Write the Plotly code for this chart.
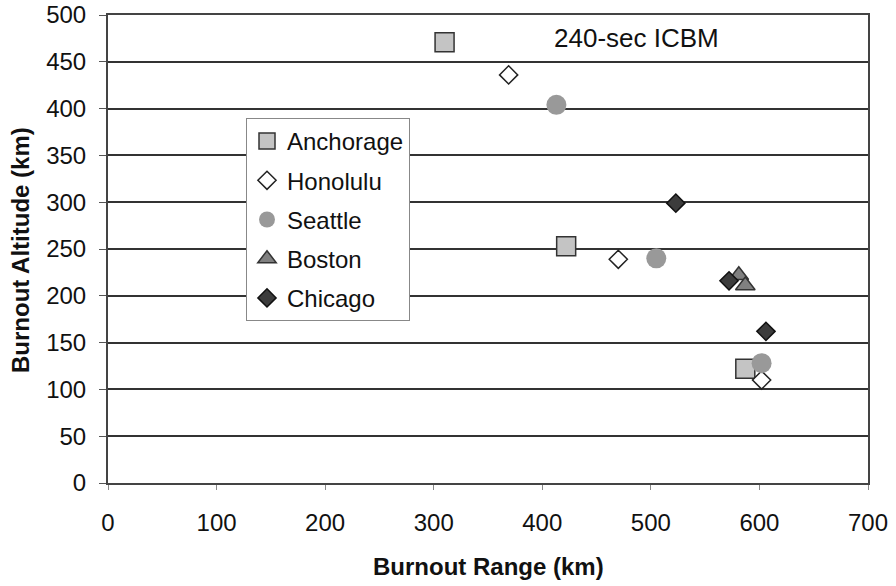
import plotly.graph_objects as go

cities = ["Anchorage", "Honolulu", "Seattle", "Boston", "Chicago"]
range_km = {
    "Anchorage": [310, 422, 587],
    "Honolulu": [369, 470, 602],
    "Seattle": [413, 505, 602],
    "Boston": [581, 587],
    "Chicago": [523, 572, 606],
}
alt_km = {
    "Anchorage": [471, 253, 122],
    "Honolulu": [436, 239, 110],
    "Seattle": [404, 240, 128],
    "Boston": [222, 211],
    "Chicago": [299, 216, 162],
}
x_ticks = [0, 100, 200, 300, 400, 500, 600, 700]
y_ticks = [0, 50, 100, 150, 200, 250, 300, 350, 400, 450, 500]

styles = {
    "Anchorage": dict(symbol="square", size=19, color="#c4c4c4", line=dict(color="#333333", width=1.5)),
    "Honolulu": dict(symbol="diamond", size=14, color="#ffffff", line=dict(color="#222222", width=1.5)),
    "Seattle": dict(symbol="circle", size=20, color="#999999", line=dict(color="#999999", width=0)),
    "Boston": dict(symbol="triangle-up", size=17, color="#808080", line=dict(color="#333333", width=1.5)),
    "Chicago": dict(symbol="diamond", size=14, color="#3c3c3c", line=dict(color="#111111", width=1.5)),
}

fig = go.Figure()
for c in cities:
    fig.add_trace(go.Scatter(
        x=range_km[c], y=alt_km[c], mode="markers", name=c,
        marker=styles[c], legendgroup=c,
    ))

font = "Liberation Sans, Arial, sans-serif"
fig.update_layout(
    width=896, height=586,
    margin=dict(l=108, r=28, t=15, b=103),
    paper_bgcolor="white", plot_bgcolor="white",
    font=dict(family=font, size=24, color="#111111"),
    showlegend=True,
    legend=dict(
        x=(246 - 108) / 760, y=(483 - 118) / 468, xanchor="left", yanchor="top",
        bgcolor="white", bordercolor="#888888", borderwidth=1,
        font=dict(size=24, color="#111111"),
        tracegroupgap=5, itemsizing="trace", itemwidth=30,
    ),
    xaxis=dict(
        range=[0, 700], tickvals=x_ticks, ticks="outside", ticklen=5,
        tickcolor="#888888", showgrid=False, zeroline=False, automargin=False,
        showline=True, linecolor="#444444", linewidth=2, mirror=True,
        tickfont=dict(size=24), ticklabelstandoff=12, ticklabeloverflow="allow",
    ),
    yaxis=dict(
        range=[0, 500], tickvals=y_ticks, ticks="outside", ticklen=7,
        tickcolor="#555555", showgrid=True, gridcolor="#333333", gridwidth=2,
        zeroline=False, showline=True, linecolor="#444444", linewidth=2, mirror=True,
        automargin=False, tickfont=dict(size=24), ticklabelstandoff=8,
        ticklabeloverflow="allow",
    ),
)
fig.add_annotation(
    x=0.5, y=(483 - 566) / 468, xref="paper", yref="paper",
    text="<b>Burnout Range (km)</b>", showarrow=False,
    xanchor="center", yanchor="middle", font=dict(size=24, color="#111111"),
)
fig.add_annotation(
    x=(20 - 108) / 760, y=(483 - 250) / 468, xref="paper", yref="paper",
    text="<b>Burnout Altitude (km)</b>", showarrow=False, textangle=-90,
    xanchor="center", yanchor="middle", font=dict(size=24, color="#111111"),
)
fig.add_annotation(
    x=409, y=475, xref="x", yref="y", text="240-sec ICBM", showarrow=False,
    xanchor="left", yanchor="middle", font=dict(size=26, color="#111111"),
)
fig.write_html(
    "out.html",
    config={"displayModeBar": False},
    post_script="document.body.style.margin='0';",
)
